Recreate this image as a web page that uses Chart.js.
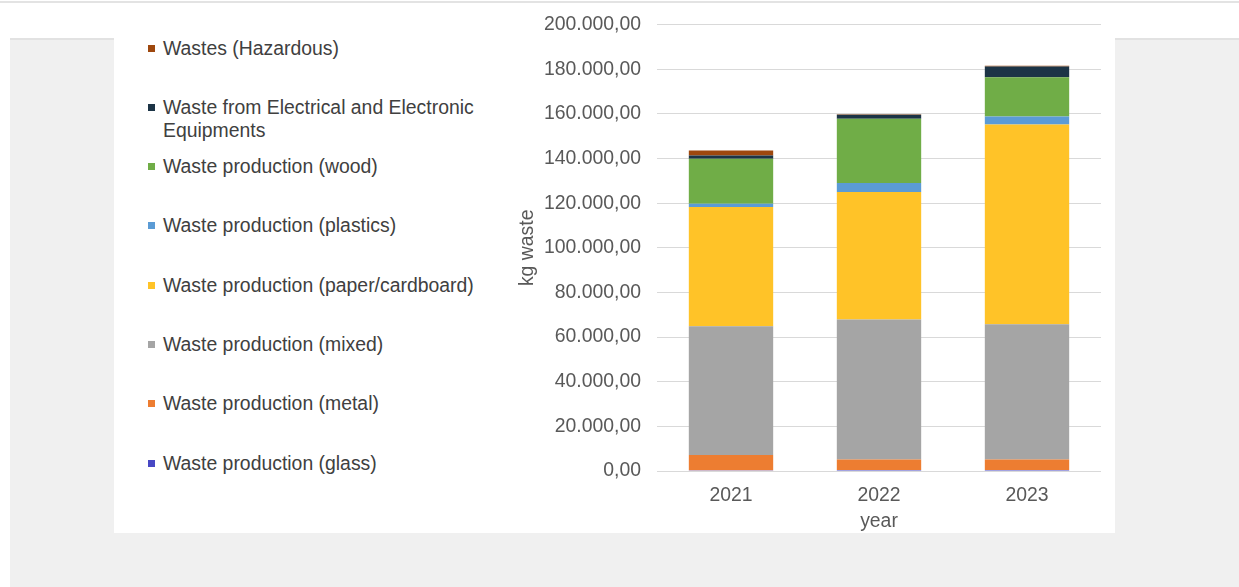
<!DOCTYPE html>
<html>
<head>
<meta charset="utf-8">
<script src="https://cdn.jsdelivr.net/npm/chart.js@4/dist/chart.umd.min.js"></script>
<style>
  html, body { margin: 0; padding: 0; background: #fff; width: 1239px; height: 587px; overflow: hidden; font-family: "Liberation Sans", Arial, sans-serif; }
  #topline { position: absolute; left: 0; top: 1px; width: 1239px; height: 2px; background: #e3e3e3; }
  #grey { position: absolute; left: 10px; top: 38px; right: 0; bottom: 0; background: #f0f0f0; border-top: 2px solid #e2e2e2; }
  #panel { position: absolute; left: 114px; top: 4px; width: 1001px; height: 529px; background: #fff; }
  #chartBox { position: absolute; left: 500px; top: -3px; width: 615px; height: 536px; }
  #legend { position: absolute; left: 0; top: 0; }
  .item { position: absolute; left: 148px; width: 345px; font-size: 19.4px; line-height: 23px; color: #404040; }
  .item .box { position: absolute; left: 0; top: 8px; width: 7px; height: 7px; }
  .item .txt { margin-left: 15px; display: block; }
</style>
</head>
<body>
<div id="topline"></div>
<div id="grey"></div>
<div id="panel"></div>
<div id="legend"></div>
<div id="chartBox"><canvas id="wasteChart"></canvas></div>
<script>
var YEARS = ['2021', '2022', '2023'];

var glass = [300, 500, 500];
var metal = [6900, 4700, 4700];
var mixed = [57700, 62700, 60600];
var paper = [53400, 57100, 89500];
var plastics = [1500, 4000, 3500];
var wood = [20100, 28800, 17600];
var weee = [1500, 1800, 4800];
var hazardous = [2200, 300, 400];

var SERIES_NAMES = [
  'Waste production (glass)',
  'Waste production (metal)',
  'Waste production (mixed)',
  'Waste production (paper/cardboard)',
  'Waste production (plastics)',
  'Waste production (wood)',
  'Waste from Electrical and Electronic Equipments',
  'Wastes (Hazardous)'
];
var SERIES_DATA = [glass, metal, mixed, paper, plastics, wood, weee, hazardous];
var COLORS = ['#4848c4', '#ed7d31', '#a5a5a5', '#ffc328', '#5b9bd5', '#70ad47', '#1c3446', '#9e480e'];

// 200.000,00 style
function fmt(v) {
  var s = Math.round(v).toString().replace(/\B(?=(\d{3})+(?!\d))/g, '.');
  return s + ',00';
}

let datasets = [];
for (let i = 0; i < SERIES_NAMES.length; i++) {
  datasets.push({
    label: SERIES_NAMES[i],
    data: SERIES_DATA[i],
    backgroundColor: COLORS[i],
    borderWidth: 0
  });
}

// legend on the left, top item = last series
const legend = document.getElementById('legend');
for (let i = SERIES_NAMES.length - 1, k = 0; i >= 0; i--, k++) {
  let div = document.createElement('div');
  div.className = 'item';
  div.style.top = (48 - 11.5 + k * 59.3) + 'px';
  div.innerHTML = '<span class="box" style="background:' + COLORS[i] + '"></span><span class="txt"></span>';
  div.querySelector('.txt').textContent = SERIES_NAMES[i];
  legend.appendChild(div);
}

const font = { family: '"Liberation Sans", Arial, sans-serif', size: 19.4 };
const ctx = document.getElementById('wasteChart');
new Chart(ctx, {
  type: 'bar',
  data: {
    labels: YEARS,
    datasets: datasets
  },
  options: {
    responsive: true,
    maintainAspectRatio: false,
    animation: false,
    layout: {
      padding: { left: 12, right: 14, top: 8, bottom: 0 }
    },
    plugins: {
      legend: { display: false },
      tooltip: { enabled: false }
    },
    datasets: {
      bar: { categoryPercentage: 1, barPercentage: 0.57 }
    },
    scales: {
      x: {
        stacked: true,
        grid: { display: false, drawTicks: false },
        border: { display: false },
        ticks: { color: '#595959', font: font, padding: 13 },
        title: { display: true, text: 'year', color: '#595959', font: font, padding: { top: 2, bottom: 0 } },
        afterFit: function (scale) { scale.height = 62; }
      },
      y: {
        stacked: true,
        min: 0,
        max: 200000,
        grid: { color: '#d9d9d9', drawTicks: false },
        border: { display: false },
        ticks: { stepSize: 20000, color: '#595959', font: font, padding: 16, callback: function (v) { return fmt(v); } },
        title: { display: true, text: 'kg waste', color: '#595959', font: font, padding: { top: 4, bottom: 4 } },
        afterFit: function (scale) { scale.width = 145; }
      }
    }
  }
});
</script>
</body>
</html>
